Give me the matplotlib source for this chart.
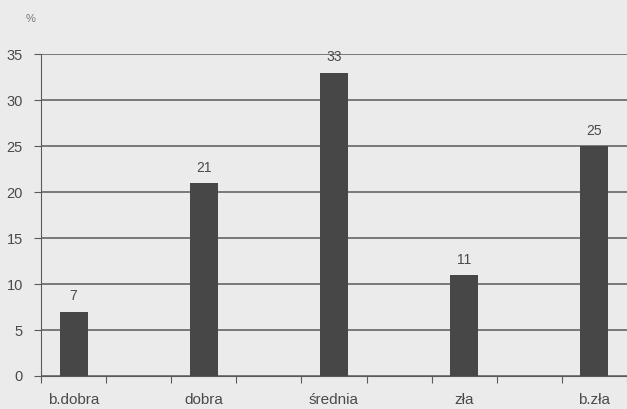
import numpy as np
import matplotlib.pyplot as plt

plt.rcParams['font.family'] = ['Liberation Sans', 'DejaVu Sans']

# 9 slots on the x axis, bars only in every other one
categories = ["b.dobra", "", "dobra", "", "średnia", "", "zła", "", "b.zła"]
values = [7, None, 21, None, 33, None, 11, None, 25]
yticks = [0, 5, 10, 15, 20, 25, 30, 35]

bg = "#ebebeb"
grid_col = "#5a5a5a"
bar_col = "#474747"
txt_col = "#4a4a4a"

fig = plt.figure(figsize=(6.27, 4.09), dpi=100, facecolor=bg)
ax = fig.add_axes([0.0654, 0.0807, 0.9346, 0.787])
ax.set_facecolor(bg)

x = np.arange(len(categories))
xs = [i for i, v in zip(x, values) if v is not None]
vs = [v for v in values if v is not None]
ax.bar(xs, vs, width=0.43, color=bar_col, zorder=3)

for xi, v in zip(xs, vs):
    ax.text(xi, v + 0.9, str(v), ha="center", va="bottom", fontsize=10, color=txt_col)

ax.set_xlim(-0.5, len(categories) - 0.5)
ax.set_ylim(0, 35)
ax.set_yticks(yticks)
ax.set_yticklabels([str(t) for t in yticks], fontsize=10.5, color=txt_col)
for t in yticks:
    ax.axhline(t, color=grid_col, lw=1.1, zorder=1)

# category boundary ticks, labels centred under the bars
ax.set_xticks(np.arange(len(categories) + 1) - 0.5)
ax.set_xticklabels([])
ax.set_xticks(x, minor=True)
ax.set_xticklabels(categories, minor=True, fontsize=11, color=txt_col)
ax.tick_params(axis="x", which="minor", length=0, pad=12)
ax.tick_params(axis="x", which="major", length=5, color=grid_col, direction="out")
ax.tick_params(axis="y", length=5, color=grid_col, pad=8)

for s in ["top", "right"]:
    ax.spines[s].set_visible(False)
ax.spines["left"].set_color(grid_col)
ax.spines["bottom"].set_color(grid_col)

fig.text(0.048, 0.945, "%", fontsize=8, color="#777777", ha="center")

fig.savefig("out.png", dpi=100, facecolor=bg)
